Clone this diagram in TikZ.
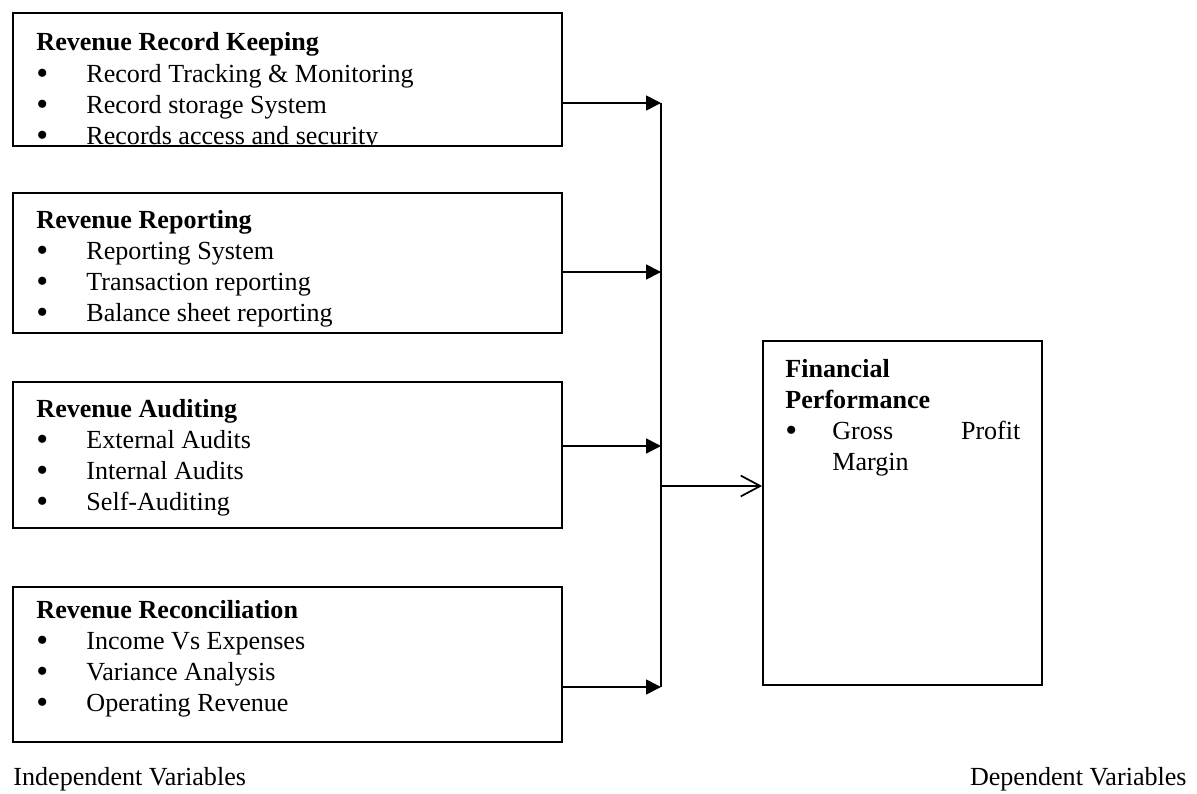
\documentclass[tikz,border=0pt]{standalone}
\usepackage{fontspec}
\setmainfont{Liberation Serif}
\usepackage{graphicx}
\usepackage{tikz}
\usetikzlibrary{positioning, fit, arrows.meta}

\newcommand{\bitem}[2][23pt]{\makebox[#1][l]{\raisebox{-1pt}{\scalebox{1.3}{\textbullet}}}#2}
\newcommand{\vlist}[1]{\fontsize{12}{14.3}\selectfont\begin{tabular}[t]{@{}l@{}}#1\end{tabular}}

\begin{document}
\begin{tikzpicture}[
    x=0.46pt, y=-0.46pt,
    varbox/.style={
        draw,
        line width=0.8pt,
        inner sep=0pt
    },
    vartext/.style={inner sep=0pt, anchor=base west},
    feed/.style={line width=0.8pt, -{Triangle[length=6.9pt, width=6.9pt]}},
    result/.style={line width=0.8pt, -{Straight Barb[length=9pt, width=9.6pt, line width=0.8pt]}},
    caption/.style={inner sep=0pt, font=\fontsize{12}{14.3}\selectfont}
]
\useasboundingbox (0,0) rectangle (1197,794);

% independent variables
\node[varbox, fit={(13,13) (562,146)}] (keep) {};
\node[varbox, fit={(13,193) (562,333)}] (report) {};
\node[varbox, fit={(13,382) (562,528)}] (audit) {};
\node[varbox, fit={(13,587) (562,742)}] (recon) {};

\begin{scope}
\clip (keep.north west) rectangle (keep.south east);
\node[vartext] (keeptxt) at (36,51) {\vlist{\textbf{Revenue Record Keeping}\\
    \bitem{Record Tracking \& Monitoring}\\
    \bitem{Record storage System}\\
    \bitem{Records access and security}}};
\end{scope}
\node[vartext] (reporttxt) at (36,228) {\vlist{\textbf{Revenue Reporting}\\
    \bitem{Reporting System}\\
    \bitem{Transaction reporting}\\
    \bitem{Balance sheet reporting}}};
\node[vartext] (audittxt) at (36,417) {\vlist{\textbf{Revenue Auditing}\\
    \bitem{External Audits}\\
    \bitem{Internal Audits}\\
    \bitem{Self-Auditing}}};
\node[vartext] (recontxt) at (36,618) {\vlist{\textbf{Revenue Reconciliation}\\
    \bitem{Income Vs Expenses}\\
    \bitem{Variance Analysis}\\
    \bitem{Operating Revenue}}};

% dependent variable
\node[varbox, fit={(763,341) (1042,685)}] (perf) {};
\node[vartext] (perftxt) at (785,377) {\vlist{\textbf{Financial}\\
    \textbf{Performance}\\
    \bitem[21.6pt]{\makebox[86.5pt][s]{Gross\hfill Profit}}\\
    \hspace{21.6pt}Margin}};

% junction points
\coordinate (j1) at (661,103);
\coordinate (j2) at (661,272);
\coordinate (j3) at (661,446);
\coordinate (j4) at (661,687);
\coordinate (jout) at (661,486);

% arrows
\draw[feed] (keep.east |- j1) -- (j1);
\draw[feed] (report.east |- j2) -- (j2);
\draw[feed] (audit.east |- j3) -- (j3);
\draw[feed] (recon.east |- j4) -- (j4);
\draw[line width=0.8pt] (j1) -- (j4);
\draw[result] (jout) -- (perf.west |- jout);

% captions
\node[caption, anchor=base west] (indep) at (13,785) {Independent Variables};
\node[caption, anchor=base east] (dep) at (1187,785) {Dependent Variables};
\end{tikzpicture}
\end{document}
